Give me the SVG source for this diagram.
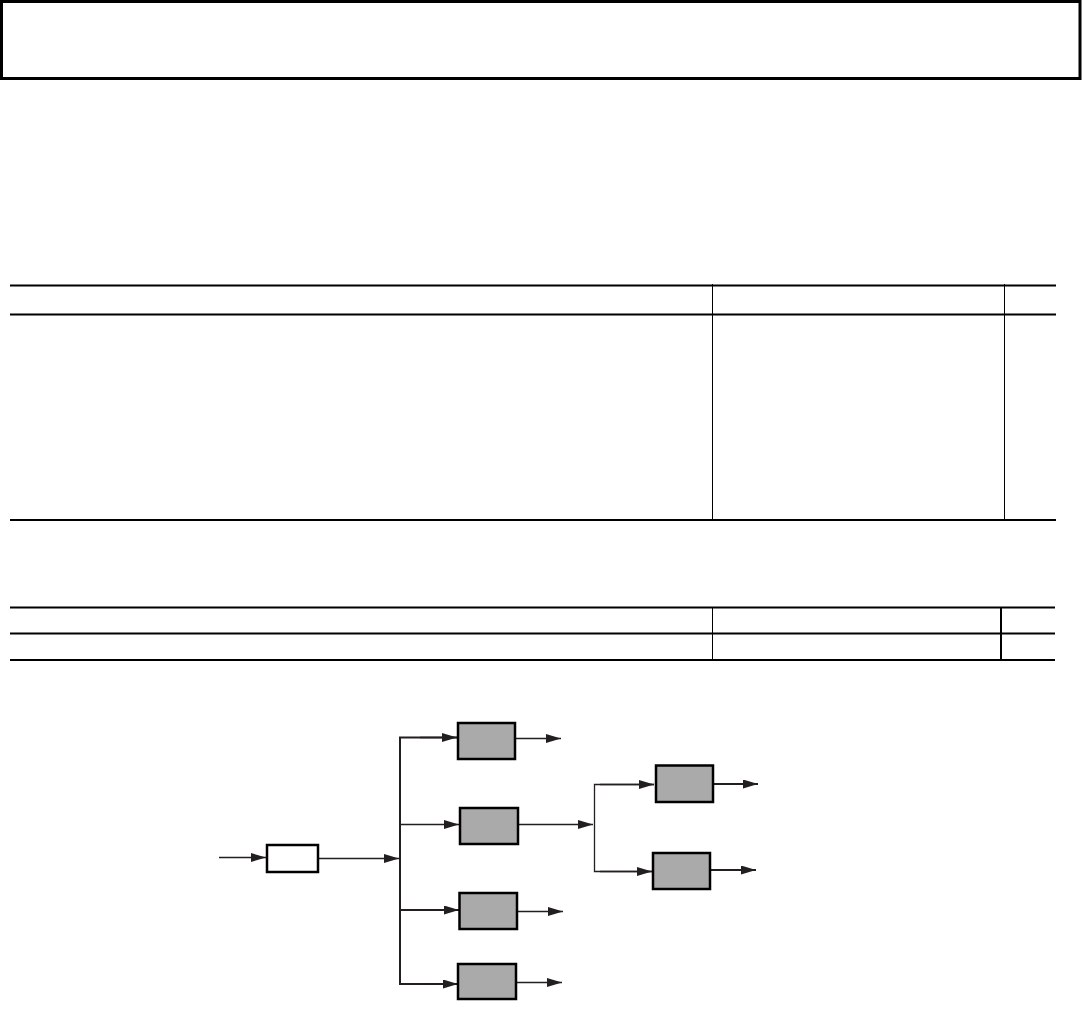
<svg xmlns="http://www.w3.org/2000/svg" width="1082" height="1009" viewBox="0 0 1082 1009">
<defs>
<style>
.hl{stroke:#000;stroke-width:2;fill:none}
.vl{stroke:#000;stroke-width:1;fill:none}
.box{fill:#a9aaa9;stroke:#000;stroke-width:2.5}
.wbox{fill:#fff;stroke:#000;stroke-width:2.5}
.c{stroke:#231f20;stroke-width:1.3;fill:none}
.ct{stroke:#231f20;stroke-width:2;fill:none}
</style>
<marker id="ah" markerUnits="userSpaceOnUse" markerWidth="16" markerHeight="10" refX="15" refY="4.5" orient="auto">
<path d="M0,0 L15,4.5 L0,9 Z" fill="#231f20"/>
</marker>
</defs>
<rect id="header" x="1.5" y="1.5" width="1078.5" height="77" fill="#fff" stroke="#000" stroke-width="3"/>
<g id="table1">
<line class="hl" x1="10" y1="285.5" x2="1056" y2="285.5"/>
<line class="hl" x1="10" y1="314.5" x2="1056" y2="314.5"/>
<line class="hl" x1="10" y1="520" x2="1056" y2="520"/>
<line class="vl" x1="712.5" y1="284" x2="712.5" y2="520"/>
<line class="vl" x1="1004.5" y1="284" x2="1004.5" y2="520"/>
</g>
<g id="table2">
<line class="hl" x1="10" y1="607.5" x2="1055" y2="607.5"/>
<line class="hl" x1="10" y1="633.5" x2="1055" y2="633.5"/>
<line class="hl" x1="10" y1="660" x2="1055" y2="660"/>
<line class="vl" x1="712.5" y1="607" x2="712.5" y2="660"/>
<line class="hl" x1="1001" y1="607" x2="1001" y2="660"/>
</g>
<g id="connectors">
<line class="c" x1="219" y1="857.5" x2="266" y2="857.5" marker-end="url(#ah)"/>
<line class="c" x1="318" y1="858.5" x2="399" y2="858.5" marker-end="url(#ah)"/>
<polyline class="ct" points="457,737.5 400,737.5 400,984 458,984"/>
<line class="c" x1="400" y1="824.5" x2="459" y2="824.5" marker-end="url(#ah)"/>
<line class="ct" x1="400" y1="910" x2="459" y2="910" marker-end="url(#ah)"/>
<line class="c" x1="420" y1="737.5" x2="457" y2="737.5" marker-end="url(#ah)"/>
<line class="c" x1="420" y1="984" x2="458" y2="984" marker-end="url(#ah)"/>
<line class="c" x1="515" y1="738.5" x2="561" y2="738.5" marker-end="url(#ah)"/>
<line class="c" x1="518" y1="824.5" x2="593" y2="824.5" marker-end="url(#ah)"/>
<line class="c" x1="517" y1="911.5" x2="563" y2="911.5" marker-end="url(#ah)"/>
<line class="c" x1="516" y1="982.5" x2="562" y2="982.5" marker-end="url(#ah)"/>
<polyline class="c" points="654,784.5 594.5,784.5 594.5,871.5 652,871.5"/>
<line class="c" x1="600" y1="784.5" x2="654" y2="784.5" marker-end="url(#ah)"/>
<line class="c" x1="600" y1="871.5" x2="652" y2="871.5" marker-end="url(#ah)"/>
<line class="ct" x1="713" y1="784" x2="758" y2="784" marker-end="url(#ah)"/>
<line class="ct" x1="710" y1="870" x2="756" y2="870" marker-end="url(#ah)"/>
</g>
<g id="input"><rect class="wbox" x="267" y="845" width="51" height="27"/></g>
<g id="b1"><rect class="box" x="458" y="723" width="57" height="36"/></g>
<g id="b2"><rect class="box" x="460" y="808" width="58" height="36"/></g>
<g id="b3"><rect class="box" x="459.5" y="893" width="57.5" height="36"/></g>
<g id="b4"><rect class="box" x="458" y="964" width="58" height="35"/></g>
<g id="b5"><rect class="box" x="656" y="765.5" width="57" height="36.5"/></g>
<g id="b6"><rect class="box" x="653" y="853" width="57" height="36"/></g>
</svg>
